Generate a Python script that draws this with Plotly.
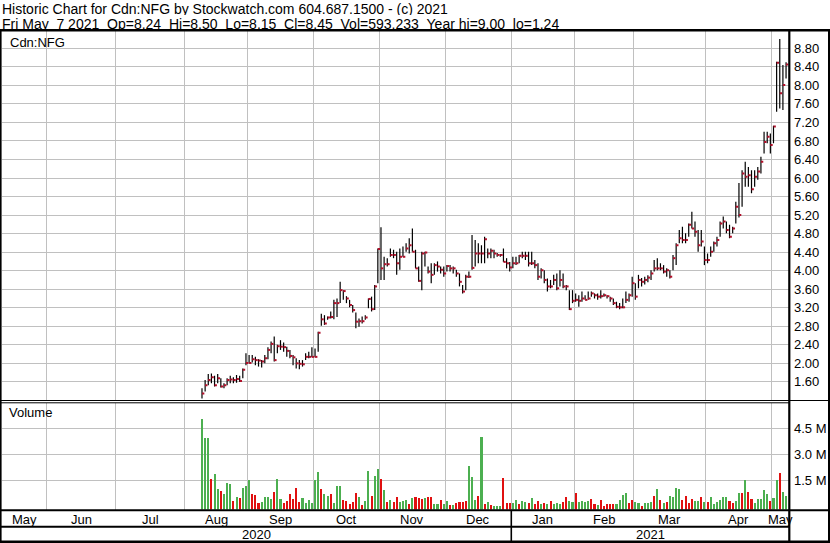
import numpy as np
import pandas as pd
import plotly.graph_objects as go

# ---------------- data ----------------
first_trade = "2020-08-11"
last_trade = "2021-05-07"
holidays = ["2020-05-18", "2020-07-01", "2020-08-03", "2020-09-07", "2020-10-12",
            "2020-12-25", "2020-12-28", "2021-01-01", "2021-02-15", "2021-04-02"]

high = [1.46,1.64,1.77,1.78,1.73,1.77,1.68,1.57,1.68,1.73,1.70,1.75,1.73,1.89,2.22,2.18,2.18,2.14,2.09,2.07,
        2.18,2.35,2.47,2.58,2.40,2.50,2.45,2.36,2.29,2.18,2.11,2.07,2.07,2.22,2.25,2.35,2.32,2.68,3.07,3.04,
        3.01,3.12,3.37,3.40,3.76,
        3.58,3.45,3.37,3.26,3.10,2.97,3.01,3.04,3.40,3.44,3.69,4.48,4.94,4.30,4.27,4.48,4.45,4.41,4.48,4.52,
        4.59,4.70,4.91,4.45,4.09,4.41,4.41,4.09,4.16,4.16,4.20,4.09,4.09,4.12,4.12,4.09,4.02,3.94,3.69,3.91,
        3.98,4.77,4.66,4.59,4.55,4.73,4.48,
        4.48,4.45,4.38,4.36,4.48,4.27,4.19,4.30,4.30,4.34,4.41,4.41,4.41,4.41,4.23,4.16,4.05,4.01,3.83,3.80,
        3.91,3.94,4.01,3.94,3.69,3.58,3.58,3.51,3.47,3.55,3.47,3.55,3.55,3.51,3.51,3.58,3.51,3.47,3.44,3.40,
        3.33,3.30,3.40,3.55,3.51,3.87,3.73,3.91,3.84,3.87,3.90,
        4.01,4.23,4.27,4.16,4.12,4.05,4.01,4.34,4.59,4.88,4.95,4.81,5.02,5.27,5.06,4.88,4.88,4.52,
        4.37,4.52,4.63,4.73,5.06,5.17,5.06,4.99,4.95,5.49,5.89,6.17,6.35,6.24,6.17,6.17,6.24,6.46,7.00,7.00,6.96,
        7.13,8.51,9.00,8.44,8.50]
low = [1.24,1.39,1.53,1.57,1.50,1.57,1.48,1.46,1.53,1.57,1.57,1.58,1.60,1.68,1.96,2.00,2.02,1.96,1.93,1.91,
       2.00,2.09,2.22,2.04,2.22,2.29,2.25,2.14,2.11,1.96,1.89,1.87,1.93,2.07,2.11,2.13,2.13,2.25,2.81,2.83,
       2.94,2.97,2.95,3.00,3.30,
       3.37,3.30,3.21,3.10,2.76,2.79,2.86,2.94,3.19,3.12,3.15,3.73,3.80,3.80,4.09,4.30,4.27,3.91,4.02,4.30,
       4.41,4.37,4.41,4.05,3.76,3.58,4.09,3.94,3.73,3.91,3.98,3.94,3.87,3.98,3.98,3.94,3.87,3.66,3.51,3.58,
       3.84,4.02,4.09,4.16,4.16,4.16,4.27,
       4.27,4.27,4.30,4.30,4.19,4.05,3.98,4.05,4.12,4.16,4.27,4.23,4.09,4.12,4.05,3.80,3.83,3.73,3.55,3.62,
       3.69,3.58,3.66,3.62,3.58,3.15,3.30,3.33,3.22,3.33,3.37,3.37,3.44,3.40,3.37,3.40,3.44,3.40,3.33,3.26,
       3.19,3.17,3.19,3.30,3.33,3.44,3.37,3.62,3.66,3.70,3.75,
       3.80,3.98,4.01,4.01,3.94,3.87,3.83,4.01,4.12,4.59,4.59,4.59,4.73,4.91,4.73,4.41,4.52,4.12,
       4.16,4.30,4.41,4.52,4.73,4.91,4.81,4.70,4.81,5.02,5.15,5.38,5.81,5.81,5.67,5.81,5.96,6.10,6.53,6.75,6.53,
       6.75,7.43,7.50,7.47,8.15]
close = [1.35,1.53,1.64,1.70,1.53,1.68,1.50,1.53,1.64,1.65,1.64,1.66,1.62,1.86,2.01,2.01,2.09,2.07,2.06,2.04,
         2.11,2.29,2.42,2.07,2.37,2.36,2.35,2.27,2.16,2.13,2.00,1.99,1.98,2.14,2.14,2.14,2.14,2.66,2.95,2.86,
         2.99,3.00,3.30,3.30,3.58,
         3.56,3.40,3.26,3.15,2.90,2.91,2.91,2.99,3.39,3.17,3.66,4.47,4.05,4.14,4.14,4.34,4.34,4.16,4.30,4.30,
         4.48,4.55,4.41,4.05,3.78,4.37,4.39,3.98,3.91,4.12,4.09,4.02,3.94,4.10,4.05,4.05,3.94,3.76,3.55,3.87,
         3.87,4.06,4.37,4.37,4.37,4.68,4.37,
         4.43,4.37,4.34,4.34,4.19,4.16,4.07,4.16,4.16,4.32,4.32,4.32,4.16,4.16,4.12,3.87,4.01,3.80,3.66,3.66,
         3.80,3.62,3.80,3.66,3.66,3.17,3.35,3.37,3.35,3.40,3.37,3.40,3.51,3.47,3.44,3.45,3.47,3.45,3.40,3.30,
         3.22,3.21,3.21,3.37,3.47,3.73,3.44,3.80,3.76,3.80,3.85,
         3.94,4.05,4.05,4.05,3.98,4.01,3.87,4.27,4.55,4.70,4.66,4.66,4.99,4.91,4.84,4.55,4.63,4.23,
         4.23,4.41,4.59,4.66,5.02,5.06,4.88,4.73,4.91,5.38,5.20,6.10,6.03,6.06,5.76,6.03,6.14,6.35,6.78,6.89,6.71,
         7.11,8.49,7.83,8.01,8.45]
# volume in thousands of shares
volume_k = [5040,3960,3920,1580,1870,980,880,710,1330,1270,310,540,500,1080,1190,1520,690,650,210,230,
            560,560,420,850,1580,420,170,310,730,420,1040,
            231,500,173,365,173,1519,1961,981,711,615,711,173,1173,1173,346,308,154,231,750,519,
            60,308,2038,596,1750,2154,1577,942,269,365,231,519,269,308,346,115,462,538,462,423,
            500,538,538,154,115,346,154,308,77,77,173,231,269,308,2327,1711,365,596,4019,115,
            269,60,40,30,30,1654,211,211,
            200,365,115,308,231,173,462,154,308,115,211,154,308,115,173,115,269,538,308,269,
            788,269,308,231,308,423,154,77,
            346,20,135,135,135,135,365,654,750,211,365,269,211,20,173,211,269,596,981,365,
            211,269,596,558,1038,981,365,596,211,423,308,308,538,231,
            231,538,135,269,365,558,558,308,211,308,750,788,1519,846,423,173,404,404,942,711,
            308,462,1519,1904,808,593]
# g = green (up) volume bar, r = red (down) volume bar
volume_dir = list("gggrggrggg" "rgrgggrrrg" "gggrggrrrr" "r"
                  "rggggggrgg" "rgggrrrrrg" "rggrggrgrg" "rrgggrgrrr" "grrggrggrg" "rrrrgggrgr" "grgggrrr"
                  "ggrggrgrrg" "rgrgggrrgg" "rggggrrg"
                  "rrrrrggggr" "rggrgggrgr" "grggggrrrr" "ggrg"
                  "rggggggrrg" "grgrrggggg" "rggrgg")
price_ticks = [1.60, 2.00, 2.40, 2.80, 3.20, 3.60, 4.00, 4.40, 4.80, 5.20, 5.60, 6.00, 6.40, 6.80, 7.20, 7.60, 8.00, 8.40, 8.80]
volume_ticks = [1.5e6, 3.0e6, 4.5e6]
volume_tick_text = ["1.5 M", "3.0 M", "4.5 M"]
header1 = "Historic Chart for Cdn:NFG by Stockwatch.com 604.687.1500 - (c) 2021"
header2 = "Fri May  7 2021  Op=8.24  Hi=8.50  Lo=8.15  Cl=8.45  Vol=593,233  Year hi=9.00  lo=1.24"
symbol_label = "Cdn:NFG"
volume_label = "Volume"

n = len(close)
assert len(high) == n and len(low) == n and len(volume_k) == n and len(volume_dir) == n

# ---------------- trading calendar -> x positions ----------------
cal = pd.bdate_range("2020-05-01", last_trade)
cal = cal[~cal.isin(pd.to_datetime(holidays))]
pos0 = cal.get_loc(pd.Timestamp(first_trade))
cal_idx = np.arange(len(cal)) - pos0
bar_x = cal_idx[pos0:]
assert len(bar_x) == n

X0, X1 = -63.85, 186.94
months = pd.Series(cal_idx, index=cal).groupby([cal.year, cal.month]).min()
bounds = [v - 0.5 for v in months.values[1:]]
month_names = [pd.Timestamp(year=y, month=m, day=1).strftime("%b") for (y, m) in months.index]
edges = [X0] + bounds + [X1]
month_centers = [(edges[k] + edges[k + 1]) / 2 for k in range(len(month_names))]
jan_bound = months.loc[(2021, 1)] - 0.5

W, H = 830, 543
PX_L, PX_R = 1.5, 789.0
def px(x):
    return x / W
def py(y):
    return 1 - y / H
def xi_to_px(v):
    return PX_L + (v - X0) / (X1 - X0) * (PX_R - PX_L)

# ---------------- traces ----------------
vx, vy, tx, ty = [], [], [], []
for xi, h, l, c in zip(bar_x, high, low, close):
    vx += [xi, xi, None]
    vy += [l, h, None]
    tx += [xi, xi + 0.75, None]
    ty += [c, c, None]

fig = go.Figure()
fig.add_trace(go.Scatter(x=vx, y=vy, mode="lines", line=dict(color="#000000", width=1.2),
                         xaxis="x", yaxis="y", hoverinfo="skip"))
fig.add_trace(go.Scatter(x=tx, y=ty, mode="lines", line=dict(color="#b0102a", width=2),
                         xaxis="x", yaxis="y", hoverinfo="skip"))

VBASE = -185000
vol_colors = ["#4caf50" if d == "g" else "#e01010" for d in volume_dir]
fig.add_trace(go.Bar(x=bar_x, y=[v * 1000 - VBASE for v in volume_k], base=VBASE,
                     marker=dict(color=vol_colors, line=dict(width=0)), width=0.66,
                     xaxis="x2", yaxis="y2", hoverinfo="skip"))

grid = "#c0c0c0"
font = "Arial, 'Liberation Sans', sans-serif"
axis_common = dict(range=[X0, X1], tickvals=bounds, showgrid=True, gridcolor=grid, gridwidth=1,
                   showticklabels=False, ticks="", zeroline=False, showline=False,
                   domain=[px(PX_L), px(PX_R)])
fig.update_layout(
    width=W, height=H, margin=dict(l=0, r=0, t=0, b=0),
    paper_bgcolor="#ffffff", plot_bgcolor="#ffffff", showlegend=False, bargap=0,
    font=dict(family=font, size=13, color="#000000"),
    xaxis=dict(anchor="y", **axis_common),
    xaxis2=dict(anchor="y2", matches="x", **axis_common),
    yaxis=dict(domain=[py(400), py(31)], range=[1.209, 9.173], side="right", anchor="x",
               tickvals=price_ticks, ticktext=[f"{v:.2f}" for v in price_ticks],
               showgrid=True, gridcolor=grid, zeroline=False, ticks="", ticklen=0,
               ticklabelstandoff=4,
               tickfont=dict(family=font, size=13, color="#000000")),
    yaxis2=dict(domain=[py(509.5), py(403)], range=[VBASE, 5.96e6], side="right", anchor="x2",
                tickvals=volume_ticks, ticktext=volume_tick_text,
                showgrid=True, gridcolor=grid, zeroline=False, ticks="", ticklen=0,
                ticklabelstandoff=4,
                tickfont=dict(family=font, size=13, color="#000000")),
)

# ---------------- frame lines ----------------
shapes = []
def hline(y, x0, x1, w):
    shapes.append(dict(type="line", xref="paper", yref="paper", x0=px(x0), x1=px(x1), y0=py(y), y1=py(y),
                       line=dict(color="#000000", width=w)))
def vline(x, y0, y1, w):
    shapes.append(dict(type="line", xref="paper", yref="paper", x0=px(x), x1=px(x), y0=py(y0), y1=py(y1),
                       line=dict(color="#000000", width=w)))
hline(30.2, 0, W, 2.5)
hline(400.5, 0, W, 1)
hline(402.8, 0, PX_R, 1)
hline(510.2, 0, W, 2)
hline(526.8, 0, PX_R, 2)
hline(541.8, 0, W, 2.5)
vline(0.8, 29, H, 1.6)
vline(789.3, 29, H, 2.2)
vline(829.0, 29, H, 2)
vline(xi_to_px(jan_bound), 510, 542, 1.6)
fig.update_layout(shapes=shapes)

# ---------------- text ----------------
ann = []
def text(x, y, s, anchor="left", size=13, box_h=None):
    a = dict(xref="paper", yref="paper", x=px(x), y=py(y), text=s.replace(" ", "\u00a0"),
             showarrow=False, xanchor=anchor, yanchor="middle",
             font=dict(family=font, size=size, color="#000000"))
    if box_h is not None:
        a.update(height=box_h, borderpad=0, valign="middle")
    ann.append(a)
text(1, 9, header1, size=14, box_h=13)
text(1, 23, header2, size=14, box_h=13)
text(8, 42, symbol_label)
text(7, 413, volume_label)
for name, c in zip(month_names, month_centers):
    text(xi_to_px(c), 519, name, "center")
text(xi_to_px((X0 + jan_bound) / 2), 534.5, "2020", "center")
text(xi_to_px((jan_bound + X1) / 2), 534.5, "2021", "center")
fig.update_layout(annotations=ann)

fig.write_html("out.html", config={"displayModeBar": False, "staticPlot": True},
               post_script="document.body.style.margin='0';document.body.style.padding='0';document.body.style.overflow='hidden';")
